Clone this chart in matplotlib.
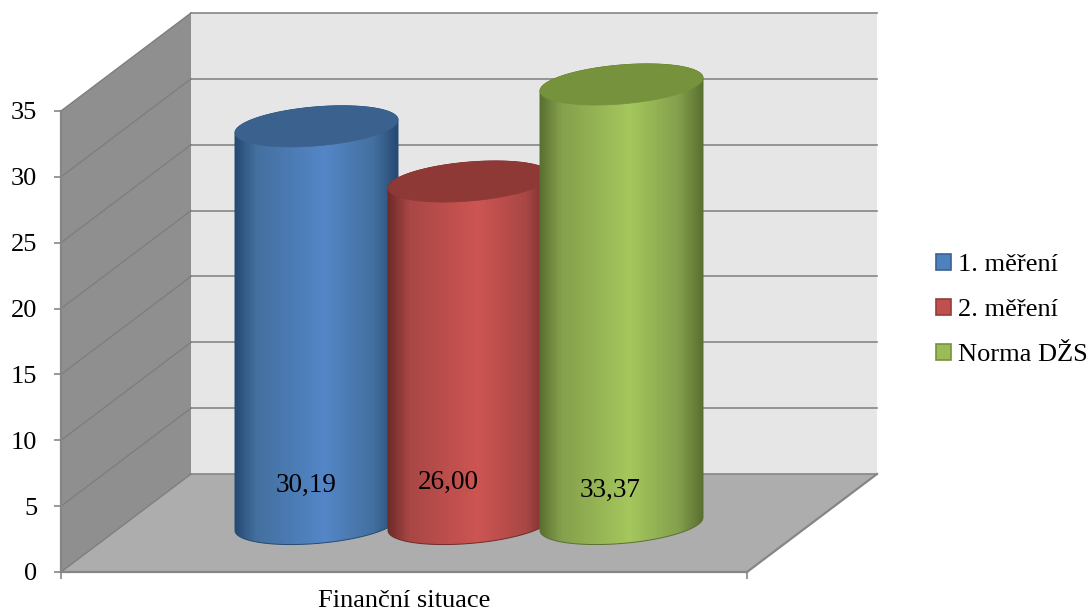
import numpy as np
import matplotlib
matplotlib.use('Agg')
import matplotlib.pyplot as plt
from matplotlib.colors import LinearSegmentedColormap
from matplotlib.patches import Polygon, Patch

plt.rcParams['font.family'] = ['Liberation Serif', 'DejaVu Serif']

# data
CATEGORY = 'Finanční situace'
SERIES = ['1. měření', '2. měření', 'Norma DŽS']
VALUES = [30.19, 26.00, 33.37]
Y_TICKS = [0, 5, 10, 15, 20, 25, 30, 35]

# colours: dark edge, mid, light, top face, swatch, swatch edge
BODY_DARK = ['#254a72', '#6f2b29', '#5a7030']
BODY_MID = ['#44709f', '#a84745', '#84a04c']
BODY_LIGHT = ['#5486c8', '#cd5552', '#a5c75d']
TOP_FACE = ['#3b618e', '#8f3937', '#76923c']
SWATCH = ['#4f81bd', '#c0504d', '#9bbb59']
SWATCH_EDGE = ['#3a6191', '#963c3a', '#77913f']

GRID = '#868686'
WALL_SIDE = '#8f8f8f'
WALL_BACK = '#e6e6e6'
FLOOR = '#adadad'

# layout, x in pixels along the front edge, y in value units
PX = 461 / 35
DEPTH_X = 130
DEPTH_Y = 98 / PX
BAR_X = [255.5, 408.5, 560.5]
BAR_A = 81.5
BAR_B = 19.5 / PX
BAR_TILT = 6.5 / PX
BAR_BASE = 48 / PX
LABEL_POS = [(245, 87 / PX), (387, 90 / PX), (549, 82 / PX)]

fig = plt.figure(figsize=(10.88, 6.13), dpi=100)
ax = fig.add_axes([61 / 1088, (613 - 572) / 613, 686 / 1088, 461 / 613])
ax.patch.set_alpha(0)
ymax = Y_TICKS[-1]


def add_poly(pts, z=1, **kw):
    p = Polygon(pts, closed=True, clip_on=False, zorder=z, **kw)
    ax.add_patch(p)
    return p


# walls
add_poly([(DEPTH_X, DEPTH_Y), (686 + DEPTH_X, DEPTH_Y), (686 + DEPTH_X, ymax + DEPTH_Y), (DEPTH_X, ymax + DEPTH_Y)],
         facecolor=WALL_BACK, edgecolor='none')
add_poly([(0, 0), (DEPTH_X, DEPTH_Y), (DEPTH_X, ymax + DEPTH_Y), (0, ymax)],
         facecolor=WALL_SIDE, edgecolor='none')
add_poly([(0, 0), (686, 0), (686 + DEPTH_X, DEPTH_Y), (DEPTH_X, DEPTH_Y)],
         facecolor=FLOOR, edgecolor='none')

# gridlines
for v in Y_TICKS:
    ax.plot([DEPTH_X, 686 + DEPTH_X], [v + DEPTH_Y, v + DEPTH_Y], color=GRID, lw=1.2, clip_on=False, zorder=2)
    ax.plot([0, DEPTH_X], [v, v + DEPTH_Y], color='#7e7e7e', lw=1.0, clip_on=False, zorder=2)
ax.plot([686, 686 + DEPTH_X], [0, DEPTH_Y], color=GRID, lw=1.6, clip_on=False, zorder=2)

# cylinders
t = np.linspace(0, 2 * np.pi, 181)
half = np.linspace(np.pi, 2 * np.pi, 91)
for i, val in enumerate(VALUES):
    cx = BAR_X[i]
    z = 5 + i * 2
    top = val + BAR_BASE
    # lower half of the base, then upper half of the top face
    bx = cx + BAR_A * np.cos(half)
    by = BAR_BASE + BAR_B * np.sin(half) + BAR_TILT * np.cos(half)
    tx = cx + BAR_A * np.cos(half[::-1])
    ty = top - BAR_B * np.sin(half[::-1]) + BAR_TILT * np.cos(half[::-1])
    body = add_poly(np.column_stack([np.r_[bx, tx], np.r_[by, ty]]), z=z + 0.5,
                    facecolor='none', edgecolor=BODY_DARK[i], lw=0.7)
    cmap = LinearSegmentedColormap.from_list(
        'bar%d' % i,
        [(0, BODY_DARK[i]), (0.13, BODY_MID[i]), (0.55, BODY_LIGHT[i]), (0.85, BODY_MID[i]), (1, BODY_DARK[i])])
    im = ax.imshow(np.linspace(0, 1, 256).reshape(1, -1), cmap=cmap, aspect='auto',
                   extent=[cx - BAR_A, cx + BAR_A, 0, top + 2], zorder=z)
    im.set_clip_box(fig.bbox)
    im.set_clip_path(body)
    # top face
    ex = cx + BAR_A * np.cos(t)
    ey = top + BAR_B * np.sin(t) + BAR_TILT * np.cos(t)
    add_poly(np.column_stack([ex, ey]), z=z + 1, facecolor=TOP_FACE[i], edgecolor=TOP_FACE[i], lw=0.5)

# value labels
for i, val in enumerate(VALUES):
    ax.text(LABEL_POS[i][0], LABEL_POS[i][1], ('%.2f' % val).replace('.', ','), ha='center', va='center',
            fontsize=19.5, color='black', zorder=20)

ax.set_xlim(0, 686)
ax.set_ylim(0, ymax)

for s in ['top', 'right']:
    ax.spines[s].set_visible(False)
for s in ['left', 'bottom']:
    ax.spines[s].set_color(GRID)
    ax.spines[s].set_linewidth(1.6)
    ax.spines[s].set_zorder(3)

ax.set_yticks(Y_TICKS)
ax.set_yticklabels([str(v) for v in Y_TICKS], fontsize=19)
ax.tick_params(axis='y', length=5, width=1.2, color=GRID, pad=12)
ax.set_xticks([0, 686])
ax.set_xticklabels(['', ''])
ax.tick_params(axis='x', which='major', length=5, width=1.2, color=GRID)
ax.set_xticks([343], minor=True)
ax.set_xticklabels([CATEGORY], minor=True, fontsize=19)
ax.tick_params(axis='x', which='minor', length=0, pad=13)

handles = [Patch(facecolor=SWATCH[i], edgecolor=SWATCH_EDGE[i], lw=1.2, label=SERIES[i]) for i in range(3)]
fig.legend(handles=handles, loc='center left', bbox_to_anchor=(936 / 1088, 1 - 310 / 613), frameon=False,
           fontsize=19, handlelength=0.55, handleheight=0.55, handletextpad=0.27, labelspacing=0.86,
           borderpad=0, borderaxespad=0)

fig.savefig('out.png', dpi=100)
